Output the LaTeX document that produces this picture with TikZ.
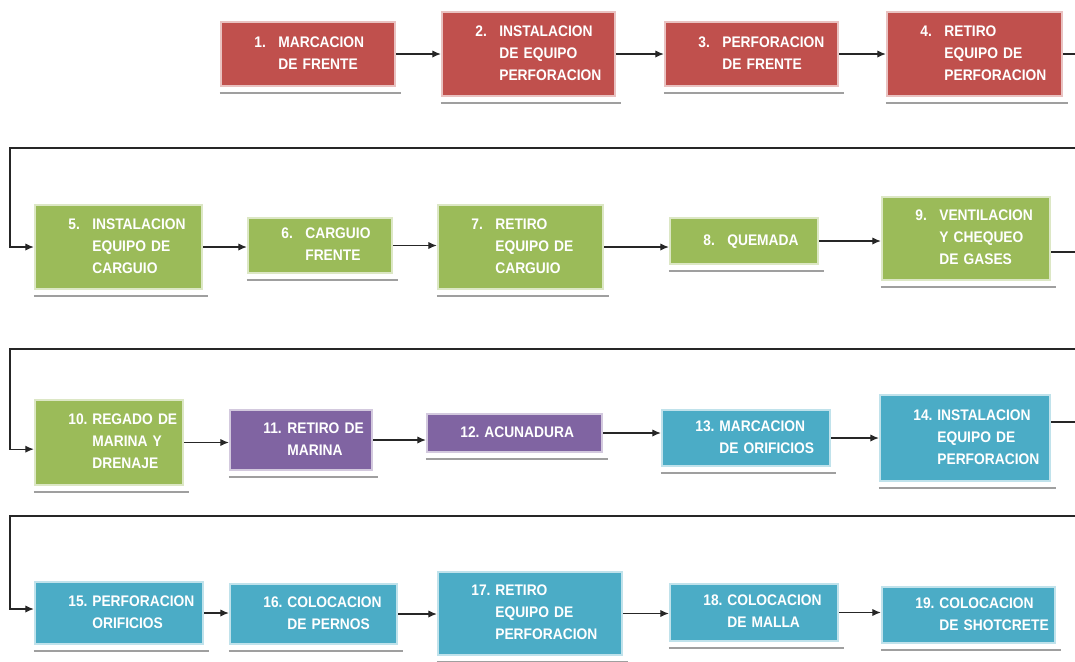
\documentclass[tikz,border=0pt]{standalone}
\usepackage{fontspec}
\setmainfont{Liberation Sans}[FakeStretch=0.9]
\usetikzlibrary{arrows.meta}

\definecolor{redStep}{HTML}{C0504D}
\definecolor{greenStep}{HTML}{9BBB59}
\definecolor{purpleStep}{HTML}{8064A2}
\definecolor{blueStep}{HTML}{4BACC6}

\begin{document}
\begin{tikzpicture}[x=0.75pt,y=-0.75pt,
		proc/.style={fill=#1,draw=#1!35,line width=1.6pt,text=white,font=\bfseries\fontsize{11.5}{16.5}\selectfont,inner xsep=3pt,inner ysep=0pt,align=left},
		link/.style={-{Latex[length=6.5pt,width=5.5pt]},line width=1pt,black!85}]
	\useasboundingbox (0,0) rectangle (1075,661);
	\clip (0,0) rectangle (1075,661);

	\newcommand\drawStep[7]{
		\pgfmathsetmacro\tw{(#5-#3)*0.75-6}
		\pgfmathsetmacro\bh{(#6-#4)*0.75}
		\node[proc=#2,text width=\tw pt,minimum height=\bh pt] (#1) at ({(#3+#5)/2},{(#4+#6)/2}) {\begin{tabular}{@{\hspace{22pt}}p{18pt}@{}l@{}}#7\end{tabular}};
		\draw[gray!75,line width=1.3pt] ([yshift=-4.5pt]#1.south west) -- ([xshift=4pt,yshift=-4.5pt]#1.south east);
	}

	\drawStep{s1}{redStep}{221}{22}{395}{86}{1. & MARCACION\\ & DE FRENTE}
	\drawStep{s2}{redStep}{442}{12}{615}{96}{2. & INSTALACION\\ & DE EQUIPO\\ & PERFORACION}
	\drawStep{s3}{redStep}{665}{22}{838}{86}{3. & PERFORACION\\ & DE FRENTE}
	\drawStep{s4}{redStep}{887}{12}{1062}{96}{4. & RETIRO\\ & EQUIPO DE\\ & PERFORACION}
	\drawStep{s5}{greenStep}{35}{205}{202}{289}{5. & INSTALACION\\ & EQUIPO DE\\ & CARGUIO}
	\drawStep{s6}{greenStep}{248}{218}{392}{273}{6. & CARGUIO\\ & FRENTE}
	\drawStep{s7}{greenStep}{438}{205}{603}{289}{7. & RETIRO\\ & EQUIPO DE\\ & CARGUIO}
	\drawStep{s8}{greenStep}{670}{218}{818}{264}{8. & QUEMADA}
	\drawStep{s9}{greenStep}{882}{197}{1050}{280}{9. & VENTILACION\\ & Y CHEQUEO\\ & DE GASES}
	\drawStep{s10}{greenStep}{35}{400}{183}{485}{10. & REGADO DE\\ & MARINA Y\\ & DRENAJE}
	\drawStep{s11}{purpleStep}{230}{410}{372}{470}{11. & RETIRO DE\\ & MARINA}
	\drawStep{s12}{purpleStep}{427}{414}{602}{452}{12. & ACUNADURA}
	\drawStep{s13}{blueStep}{662}{410}{830}{466}{13. & MARCACION\\ & DE ORIFICIOS}
	\drawStep{s14}{blueStep}{880}{395}{1050}{481}{14. & INSTALACION\\ & EQUIPO DE\\ & PERFORACION}
	\drawStep{s15}{blueStep}{35}{582}{203}{644}{15. & PERFORACION\\ & ORIFICIOS}
	\drawStep{s16}{blueStep}{230}{584}{397}{644}{16. & COLOCACION\\ & DE PERNOS}
	\drawStep{s17}{blueStep}{438}{572}{622}{655}{17. & RETIRO\\ & EQUIPO DE\\ & PERFORACION}
	\drawStep{s18}{blueStep}{670}{584}{838}{641}{18. & COLOCACION\\ & DE MALLA}
	\drawStep{s19}{blueStep}{882}{587}{1055}{643}{19. & COLOCACION\\ & DE SHOTCRETE}

	\foreach \a/\b in {s1/s2,s2/s3,s3/s4,s5/s6,s6/s7,s7/s8,s8/s9,s10/s11,s11/s12,s12/s13,s13/s14,s15/s16,s16/s17,s17/s18,s18/s19}
		\draw[link] (\a.east) -- (\a.east -| \b.west);

	\coordinate (r1) at (1078,148);
	\coordinate (l1) at (10,148);
	\coordinate (r2) at (1078,349);
	\coordinate (l2) at (10,349);
	\coordinate (r3) at (1078,516);
	\coordinate (l3) at (10,516);

	\draw[link] (s4.east) -| (r1) -- (l1) |- (s5.west);
	\draw[link] ([yshift=-10pt]s9.east) -| (r2) -- (l2) |- ([yshift=-5pt]s10.west);
	\draw[link] ([yshift=12pt]s14.east) -| (r3) -- (l3) |- ([yshift=3pt]s15.west);
\end{tikzpicture}
\end{document}
